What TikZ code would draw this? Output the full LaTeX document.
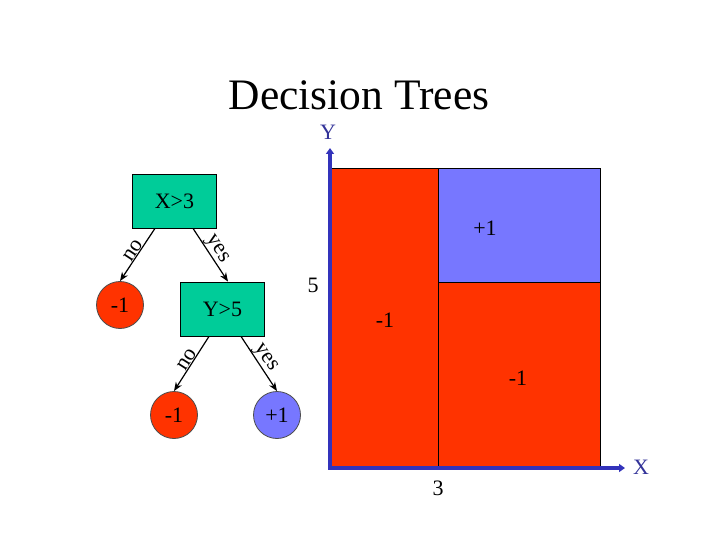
\documentclass[tikz,border=0pt]{standalone}
\usepackage{fontspec}
\setmainfont{Liberation Serif}
\usetikzlibrary{arrows.meta}
\definecolor{tgreen}{HTML}{00CC99}
\definecolor{tred}{HTML}{FF3300}
\definecolor{tblue}{HTML}{7777FF}
\definecolor{axblue}{HTML}{3333BB}
\definecolor{lblblue}{HTML}{333399}
\tikzset{
  txt/.style={font=\fontsize{22}{26}\selectfont},
  testbox/.style={draw=black, line width=0.8pt, fill=tgreen, minimum width=84pt, minimum height=54pt, inner sep=0pt, txt},
  leafneg/.style={circle, draw=black!70, line width=0.8pt, fill=tred, minimum size=47pt, inner sep=0pt, txt},
  leafpos/.style={circle, draw=black!70, line width=0.8pt, fill=tblue, minimum size=47pt, inner sep=0pt, txt},
  edge/.style={-{Stealth[length=9pt,width=7pt]}, line width=1.2pt},
  elabel/.style={sloped, above, inner sep=0pt, txt},
  region/.style={draw=black, line width=0.8pt, inner sep=0pt},
  axis/.style={line width=3.4pt, axblue, -{Triangle[length=6pt,width=8pt]}}
}
\begin{document}
\begin{tikzpicture}[x=1pt,y=-1pt]
\useasboundingbox (0,0) rectangle (720,540);
\node[anchor=base, font=\fontsize{43.5}{50}\selectfont] (title) at (359,110) {Decision Trees};

% tree
\node[testbox] (x3) at (174.5,201) {X>3};
\node[leafneg] (l1) at (120,305) {-1};
\node[testbox] (y5) at (222.5,309) {Y>5};
\node[leafneg] (l2) at (174,415) {-1};
\node[leafpos] (l3) at (277,415) {+1};

\draw[edge] ([xshift=-19.5pt]x3.south) -- node[elabel, pos=0.48] {no} (l1.north);
\draw[edge] ([xshift=18.5pt]x3.south) -- node[elabel, pos=0.48] {yes} ([xshift=5.5pt]y5.north);
\draw[edge] ([xshift=-13.5pt]y5.south) -- node[elabel, pos=0.48] {no} (l2.north);
\draw[edge] ([xshift=18.5pt]y5.south) -- node[elabel, pos=0.48] {yes} (l3.north);

% regions
\node[region, fill=tred, minimum width=108pt, minimum height=300pt] (rl) at (384,318) {};
\node[region, fill=tblue, minimum width=162pt, minimum height=114pt] (rur) at (519,225) {};
\node[region, fill=tred, minimum width=162pt, minimum height=186pt] (rlr) at (519,375) {};
\node[txt] (lab1) at (485,228) {+1};
\node[txt] (lab2) at (385,320) {-1};
\node[txt] (lab3) at (518,378) {-1};

% axes
\coordinate (o) at (330,468);
\coordinate (ytip) at (330,148);
\coordinate (xtip) at (625,468);
\draw[axis] ([yshift=-1.7pt]o) -- (ytip);
\draw[axis] ([xshift=-1.7pt]o) -- (xtip);
\node[txt, text=lblblue] (ylab) at (328,132) {Y};
\node[txt, text=lblblue] (xlab) at (641,467) {X};
\node[txt] (five) at (313,285) {5};
\node[txt] (three) at (438,488) {3};
\end{tikzpicture}
\end{document}
